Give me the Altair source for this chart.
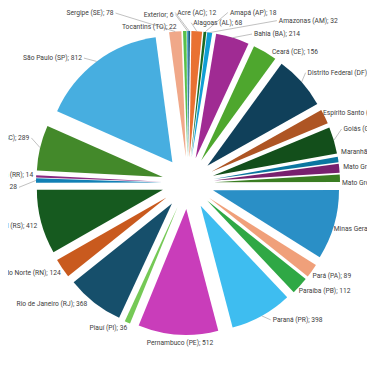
import altair as alt
import pandas as pd
import numpy as np

# ---------------- data ----------------
names = [
    "Acre (AC)", "Alagoas (AL)", "Amapá (AP)", "Amazonas (AM)", "Bahia (BA)",
    "Ceará (CE)", "Distrito Federal (DF)", "Espírito Santo (ES)", "Goiás (GO)",
    "Maranhão (MA)", "Mato Grosso (MT)", "Mato Grosso do Sul (MS)",
    "Minas Gerais (MG)", "Pará (PA)", "Paraíba (PB)", "Paraná (PR)",
    "Pernambuco (PE)", "Piauí (PI)", "Rio de Janeiro (RJ)",
    "Rio Grande do Norte (RN)", "Rio Grande do Sul (RS)", "Rondônia (RO)",
    "Roraima (RR)", "Santa Catarina (SC)", "São Paulo (SP)", "Sergipe (SE)",
    "Tocantins (TO)", "Exterior",
]
values = [12, 68, 18, 32, 214, 156, 342, 94, 172, 34, 58, 48, 446, 89, 112,
          398, 512, 36, 368, 124, 412, 28, 14, 289, 812, 78, 22, 6]

# ---------------- style ----------------
colors = [
    "#156082", "#E97132", "#196B24", "#0F9ED5", "#A02B93", "#4EA72E",
    "#10405A", "#AE5524", "#134F1B", "#0B76A0", "#78206E", "#3A7D22",
    "#2A8FC6", "#F0A07A", "#2FA845", "#3EBDF0", "#C93DBA", "#75C956",
    "#164F6B", "#C95A1E", "#165A1F", "#1180B5", "#8A2A80", "#43892A",
    "#47AEE0", "#F0A889", "#58C04A", "#3C9BD0",
]

# label layout nudges (pixels, relative to the computed label anchor)
label_nudge = {
    "Acre (AC)": (-12, -10.5), "Alagoas (AL)": (-4, -0.5), "Amapá (AP)": (24, -11.5),
    "Amazonas (AM)": (68, -4), "Bahia (BA)": (19, 4), "Ceará (CE)": (3, 7),
    "Distrito Federal (DF)": (0, -4), "Espírito Santo (ES)": (-9, 0),
    "Goiás (GO)": (2, -9), "Maranhão (MA)": (-5, -6), "Mato Grosso (MT)": (-4, 0),
    "Mato Grosso do Sul (MS)": (-6, 5), "Minas Gerais (MG)": (-8, 2),
    "Pará (PA)": (-6, 0), "Paraíba (PB)": (-7, 0), "Paraná (PR)": (7, -3),
    "Pernambuco (PE)": (2.5, 0), "Piauí (PI)": (3, -2),
    "Rio de Janeiro (RJ)": (-2, -5), "Rio Grande do Norte (RN)": (5, 0),
    "Rio Grande do Sul (RS)": (4, 2), "Rondônia (RO)": (-11, 7),
    "Roraima (RR)": (5, -1), "Santa Catarina (SC)": (-3, -8),
    "São Paulo (SP)": (-10, 3), "Sergipe (SE)": (-61, -10.5),
    "Tocantins (TO)": (-8, 4), "Exterior": (-14, -8.5),
}

W, H = 359, 344
CX, CY = 180, 175      # pie centre (view pixels)
EXPLODE = 26           # explosion distance
RADIUS = 126           # slice radius
R_EDGE = EXPLODE + RADIUS
R_LABEL = 160
TOTAL = float(np.sum(values))

df = pd.DataFrame({
    "idx": list(range(len(names))),
    "name": names,
    "value": values,
    "label": [f"{n}; {v}" for n, v in zip(names, values)],
    "ndx": [label_nudge[n][0] for n in names],
    "ndy": [label_nudge[n][1] for n in names],
})

base = (
    alt.Chart(df)
    .transform_window(cum="sum(value)", sort=[alt.SortField("idx")], frame=[None, 0])
    .transform_calculate(
        start="datum.cum - datum.value",
        mid=f"(datum.cum - datum.value / 2) / {TOTAL} * 2 * PI",
        cx=f"{CX} + {EXPLODE} * sin(datum.mid)",
        cy=f"{CY} - {EXPLODE} * cos(datum.mid)",
        ex=f"{CX} + {R_EDGE} * sin(datum.mid)",
        ey=f"{CY} - {R_EDGE} * cos(datum.mid)",
        lx=f"{CX} + {R_LABEL} * sin(datum.mid) + datum.ndx",
        ly=f"{CY} - {R_LABEL} * cos(datum.mid) + datum.ndy",
        side="sin(datum.mid) >= 0 ? 'L' : ((abs(sin(datum.mid)) < 0.1 && cos(datum.mid) < 0) ? 'C' : 'R')",
        ax="datum.side == 'L' ? datum.lx - 2 : (datum.side == 'R' ? datum.lx + 2 : datum.lx)",
        ay="datum.side == 'C' ? datum.ly - 4 : datum.ly",
        llen="sqrt(pow(datum.ax - datum.ex, 2) + pow(datum.ay - datum.ey, 2))",
    )
)

arcs = base.mark_arc(radius=RADIUS).encode(
    theta=alt.Theta("start:Q", scale=alt.Scale(domain=[0, TOTAL], range=[0, 2 * np.pi]), stack=None),
    theta2=alt.Theta2("cum:Q"),
    x=alt.X("cx:Q", scale=None, axis=None),
    y=alt.Y("cy:Q", scale=None, axis=None),
    color=alt.Color("name:N", scale=alt.Scale(domain=names, range=colors), legend=None),
)

leaders = base.transform_filter("datum.llen > 9").mark_rule(
    color="#A6A6A6", strokeWidth=0.7
).encode(
    x=alt.X("ex:Q", scale=None, axis=None),
    y=alt.Y("ey:Q", scale=None, axis=None),
    x2="ax:Q",
    y2="ay:Q",
)

def labels(side, align):
    return base.transform_filter(f"datum.side == '{side}'").mark_text(
        align=align, baseline="middle", font="Roboto", fontSize=6.7, color="#404040"
    ).encode(
        x=alt.X("lx:Q", scale=None, axis=None),
        y=alt.Y("ly:Q", scale=None, axis=None),
        text="label:N",
    )

chart = alt.layer(
    arcs, leaders, labels("L", "left"), labels("R", "right"), labels("C", "center")
).properties(
    width=W, height=H, autosize="none", padding=0
).configure_view(stroke=None)

chart.save("out.html", embed_options={"renderer": "svg", "actions": False})
